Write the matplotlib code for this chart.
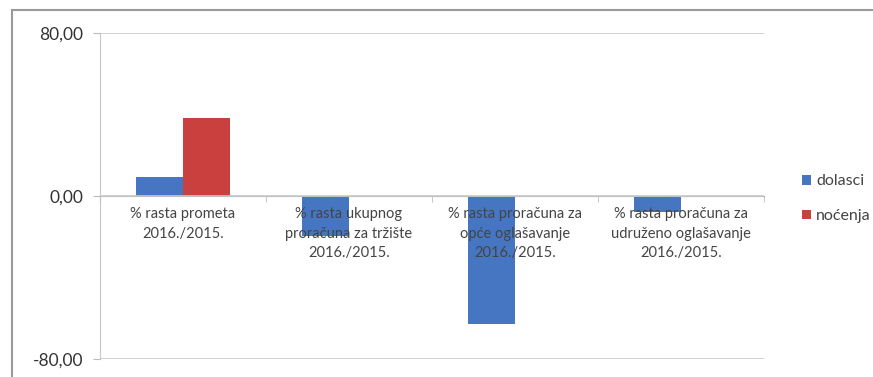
import numpy as np
import matplotlib.pyplot as plt
from matplotlib.patches import Rectangle

plt.rcParams['font.family'] = ['Lato', 'DejaVu Sans']

categories = ['% rasta prometa\n2016./2015.',
              '% rasta ukupnog\nproračuna za tržište\n2016./2015.',
              '% rasta proračuna za\nopće oglašavanje\n2016./2015.',
              '% rasta proračuna za\nudruženo oglašavanje\n2016./2015.']
dolasci = [9.3, -19.5, -63.0, -8.0]
nocenja = [38.2, 0, 0, 0]
yticks = [-80, 0, 80]

fig = plt.figure(figsize=(8.73, 3.77), dpi=100)
ax = fig.add_axes([100/873, 18/377, 664/873, 326/377])

# move the category axis to zero first (this resets tick settings)
ax.spines['bottom'].set_position(('data', 0))
ax.spines['bottom'].set_color('#a0a0a0')
ax.spines['left'].set_color('#c8c8c8')
ax.spines['top'].set_visible(False)
ax.spines['right'].set_visible(False)

x = np.arange(len(categories))
w = 0.285
ax.bar(x - w/2, dolasci, w, color='#4676C2', label='dolasci', zorder=1)
ax.bar(x + w/2, nocenja, w, color='#C9403F', label='noćenja', zorder=1)

ax.set_xlim(-0.5, len(categories) - 0.5)
ax.set_ylim(-80, 80)
ax.set_yticks(yticks)
ax.set_yticklabels([f'{v:.2f}'.replace('.', ',') for v in yticks],
                   fontsize=12.5, color='#333333')
ax.tick_params(axis='y', length=5, color='#bbbbbb', pad=7)
ax.yaxis.grid(True, color='#c8c8c8', linewidth=1.2)
# axis (and its labels) above the bars, like the original
ax.set_axisbelow(False)

ax.set_xticks(x)
ax.set_xticklabels(categories, fontsize=10.5, color='#444444', linespacing=1.5)
ax.set_xticks(np.arange(len(categories) + 1) - 0.5, minor=True)
ax.tick_params(axis='x', which='major', length=0, pad=8)
ax.tick_params(axis='x', which='minor', length=4, color='#bbbbbb')

fig.legend(loc='upper left', bbox_to_anchor=(788/873, 1 - 160/377),
           frameon=False, fontsize=11.5, handlelength=0.55, handleheight=0.55,
           handletextpad=0.3, labelspacing=1.3, labelcolor='#444444')

fig.add_artist(Rectangle((12/873, -0.1), 2, 1.1 - 10/377,
                         transform=fig.transFigure, fill=False,
                         edgecolor='#9a9a9a', linewidth=1.5))

fig.savefig('out.png', dpi=100)
